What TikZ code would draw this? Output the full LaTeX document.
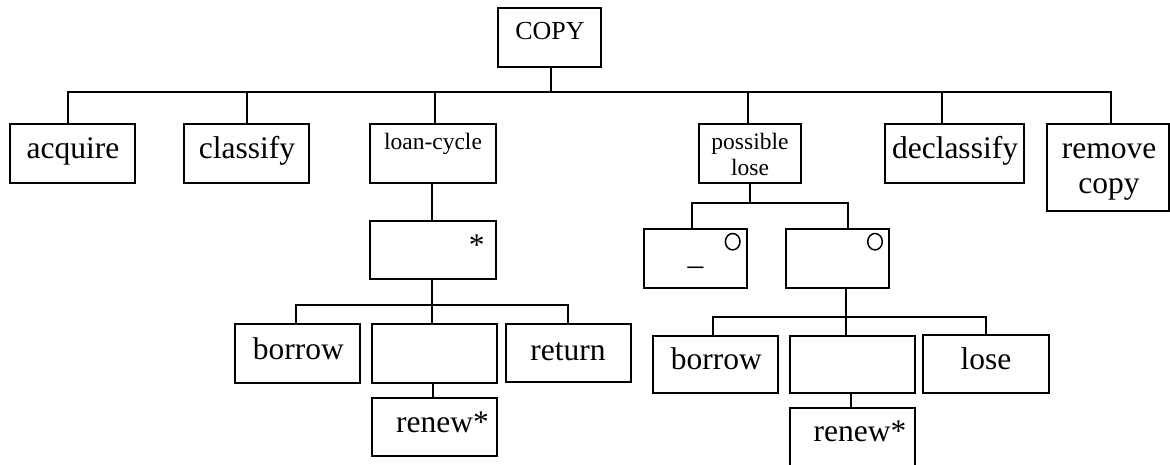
\documentclass[tikz,border=0pt]{standalone}
\usepackage{fontspec}
\setmainfont{Liberation Serif}
\usetikzlibrary{shapes.geometric}
\newcommand\txtL{\fontsize{31.5}{36}\selectfont}
\newcommand\txtM{\fontsize{23.5}{26}\selectfont}
\newcommand\txtC{\fontsize{26}{30}\selectfont}

\begin{document}
\begin{tikzpicture}[x=1pt,y=-1pt,
  box/.style={draw, rectangle, line width=2pt, inner sep=0pt, outer sep=0pt},
  link/.style={line width=2pt},
  lbl/.style={inner sep=0pt, anchor=base, font=\txtL},
  lblm/.style={inner sep=0pt, anchor=base, font=\txtM},
  optmark/.style={draw, ellipse, line width=1.5pt, inner sep=0pt, minimum width=14.6pt, minimum height=16.4pt}]
\useasboundingbox (0,0) rectangle (1170,465);

% ---- boxes ----
\node[box, minimum width=103pt, minimum height=59pt] (copy) at (549.5,37.5) {};
\node[box, minimum width=125pt, minimum height=59pt] (acq)  at (72.5,153.5) {};
\node[box, minimum width=125pt, minimum height=59pt] (cls)  at (246.5,153.5) {};
\node[box, minimum width=126pt, minimum height=59pt] (loan) at (433,153.5) {};
\node[box, minimum width=102pt, minimum height=59pt] (pos)  at (750,153.5) {};
\node[box, minimum width=139pt, minimum height=59pt] (dec)  at (954.5,153.5) {};
\node[box, minimum width=122pt, minimum height=87pt] (rem)  at (1108,167.5) {};

\node[box, minimum width=126pt, minimum height=58pt] (star) at (433,250) {};
\node[box, minimum width=103pt, minimum height=59pt] (oA)   at (695.5,258.5) {};
\node[box, minimum width=103pt, minimum height=59pt] (oB)   at (837.5,258.5) {};

\node[box, minimum width=125pt, minimum height=59pt] (bor1) at (297.5,353.5) {};
\node[box, minimum width=125pt, minimum height=59pt] (emp1) at (434.5,353.5) {};
\node[box, minimum width=125pt, minimum height=58pt] (ret)  at (568.5,353) {};
\node[box, minimum width=125pt, minimum height=58pt] (ren1) at (434.5,427) {};

\node[box, minimum width=125pt, minimum height=57pt] (bor2) at (715.5,364.5) {};
\node[box, minimum width=125pt, minimum height=57pt] (emp2) at (852.5,364.5) {};
\node[box, minimum width=126pt, minimum height=58pt] (lose) at (986,364) {};
\node[box, minimum width=125pt, minimum height=70pt] (ren2) at (852.5,443) {};

% ---- option marks ----
\node[optmark] (oAc) at (732.7,241.7) {};
\node[optmark] (oBc) at (875,241.7) {};

% ---- labels ----
\node[inner sep=0pt, anchor=base, font=\txtC] (tCopy) at (550,39.3) {COPY};
\node[lbl] (tAcq) at (72.9,159) {acquire};
\node[lbl] (tCls) at (246.9,158.3) {classify};
\node[lblm] (tLoan) at (433,150) {loan-cycle};
\node[lblm] (tPos1) at (750,150) {possible};
\node[lblm] (tPos2) at (750,176) {lose};
\node[lbl] (tDec) at (955,158.3) {declassify};
\node[lbl] (tRem1) at (1109,158.3) {remove};
\node[lbl] (tRem2) at (1109,193.3) {copy};
\node[lbl] (tStar) at (476.7,255.5) {*};
\node[lbl] (tUnd) at (695.5,264.6) {\_};
\node[lbl] (tBor1) at (298.3,359) {borrow};
\node[lbl] (tRet) at (568,360) {return};
\node[lbl] (tRen1) at (442.5,432.7) {renew*};
\node[lbl] (tBor2) at (716.3,369.3) {borrow};
\node[lbl] (tLose) at (986,369.3) {lose};
\node[lbl] (tRen2) at (860,441.7) {renew*};

% ---- connector levels ----
\coordinate (busY) at (0,92);
\coordinate (subL) at (0,305);
\coordinate (subP) at (0,203);
\coordinate (subR) at (0,317);

% attachment points on the box edges
\coordinate (copyB) at ([xshift=1.5pt]copy.south);
\coordinate (acqT)  at ([xshift=-4.5pt]acq.north);
\coordinate (clsT)  at ([xshift=0.5pt]cls.north);
\coordinate (loanT) at ([xshift=2pt]loan.north);
\coordinate (loanB) at ([xshift=-1pt]loan.south);
\coordinate (posT)  at ([xshift=-2pt]pos.north);
\coordinate (decT)  at ([xshift=-12.5pt]dec.north);
\coordinate (remT)  at ([xshift=3pt]rem.north);
\coordinate (starB) at ([xshift=-1pt]star.south);
\coordinate (bor1T) at ([xshift=-1.5pt]bor1.north);
\coordinate (retT)  at ([xshift=-0.5pt]ret.north);
\coordinate (emp1B) at ([xshift=-1.5pt]emp1.south);
\coordinate (oAT)   at ([xshift=-3.5pt]oA.north);
\coordinate (oBT)   at ([xshift=10.5pt]oB.north);
\coordinate (oBB)   at ([xshift=8.5pt]oB.south);
\coordinate (bor2T) at ([xshift=-2.5pt]bor2.north);
\coordinate (emp2B) at ([xshift=-1.5pt]emp2.south);

% ---- connectors ----
\draw[link] (copyB) -- (copyB |- busY);
\draw[link] (acqT) -- (acqT |- busY) -- (remT |- busY) -- (remT);
\draw[link] (clsT) -- (clsT |- busY);
\draw[link] (loanT) -- (loanT |- busY);
\draw[link] (posT) -- (posT |- busY);
\draw[link] (decT) -- (decT |- busY);

\draw[link] (loanB) -- (loanB |- star.north);
\draw[link] (starB) -- (starB |- emp1.north);
\draw[link] (bor1T) |- (retT |- subL) -- (retT);
\draw[link] (emp1B) -- (emp1B |- ren1.north);

\draw[link] (pos.south) -- (pos.south |- subP);
\draw[link] (oAT) |- (oBT |- subP) -- (oBT);
\draw[link] (oBB) -- (oBB |- emp2.north);
\draw[link] (bor2T) |- (lose.north |- subR) -- (lose.north);
\draw[link] (emp2B) -- (emp2B |- ren2.north);
\end{tikzpicture}
\end{document}
